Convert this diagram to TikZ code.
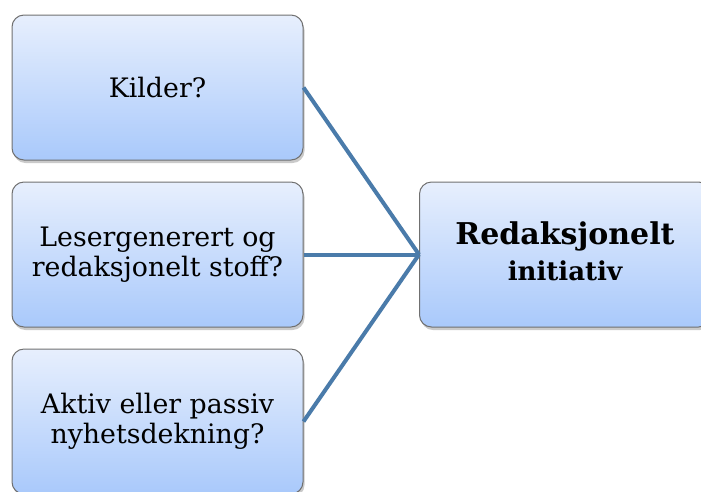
\documentclass[tikz,border=0pt]{standalone}
\usepackage{fontspec}
\setmainfont{DejaVu Serif}
\usetikzlibrary{shadows}
\definecolor{boxtop}{RGB}{231,239,253}
\definecolor{boxbot}{RGB}{169,201,251}
\definecolor{boxedge}{RGB}{112,112,112}
\definecolor{linkblue}{RGB}{74,123,170}
\tikzset{
  box/.style={draw=boxedge, line width=1pt, rounded corners=12pt,
    top color=boxtop, bottom color=boxbot,
    minimum width=291pt, minimum height=145pt, inner sep=0pt, align=center,
    drop shadow={shadow xshift=1.5pt, shadow yshift=-3pt, opacity=0.35, fill=black!60},
    font=\fontsize{26.8}{30}\selectfont},
  link/.style={draw=linkblue, line width=4pt}
}
\begin{document}
\begin{tikzpicture}[x=1pt,y=-1pt]
\useasboundingbox (0,0) rectangle (701,491);
\clip (0,0) rectangle (701,491);
\node[box] (b1) at (157.5,87.5) {Kilder?};
\node[box] (b2) at (157.5,254.5) {Lesergenerert og\\redaksjonelt stoff?};
\node[box] (b3) at (157.5,421.5) {Aktiv eller passiv\\nyhetsdekning?};
\node[box, font=\fontsize{30}{36}\selectfont\bfseries, text depth=6pt] (r) at (565,254.5) {Redaksjonelt\\{\fontsize{26}{36}\selectfont initiativ}};
\draw[link] (b1.east) -- (r.west);
\draw[link] (b2.east) -- (r.west);
\draw[link] (b3.east) -- (r.west);
\end{tikzpicture}
\end{document}
